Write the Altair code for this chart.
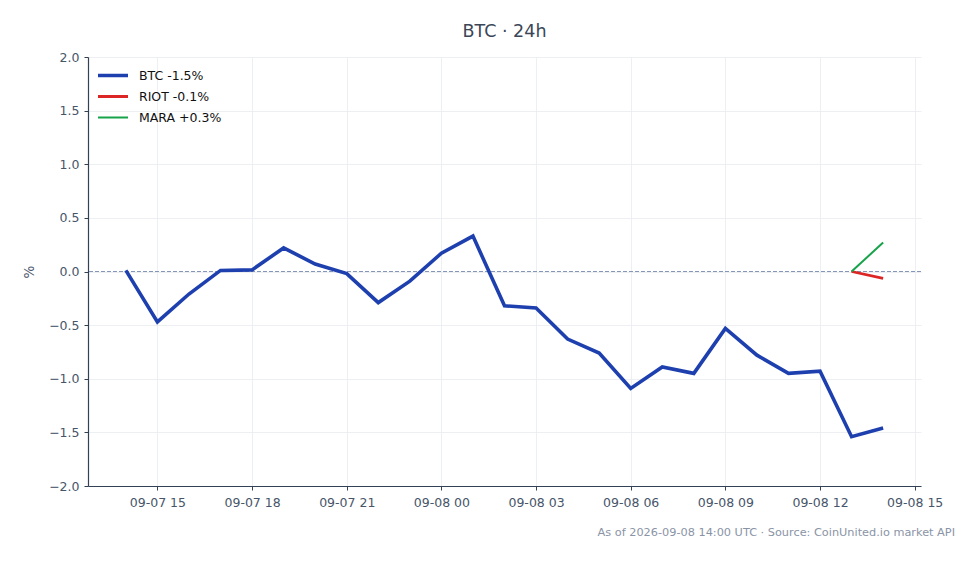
import altair as alt
import pandas as pd

# ---- data ----
btc_hours = [
    "2026-09-07T14:00:00Z", "2026-09-07T15:00:00Z", "2026-09-07T16:00:00Z", "2026-09-07T17:00:00Z",
    "2026-09-07T18:00:00Z", "2026-09-07T19:00:00Z", "2026-09-07T20:00:00Z", "2026-09-07T21:00:00Z",
    "2026-09-07T22:00:00Z", "2026-09-07T23:00:00Z", "2026-09-08T00:00:00Z", "2026-09-08T01:00:00Z",
    "2026-09-08T02:00:00Z", "2026-09-08T03:00:00Z", "2026-09-08T04:00:00Z", "2026-09-08T05:00:00Z",
    "2026-09-08T06:00:00Z", "2026-09-08T07:00:00Z", "2026-09-08T08:00:00Z", "2026-09-08T09:00:00Z",
    "2026-09-08T10:00:00Z", "2026-09-08T11:00:00Z", "2026-09-08T12:00:00Z", "2026-09-08T13:00:00Z",
    "2026-09-08T14:00:00Z",
]
btc_values = [0.01, -0.47, -0.21, 0.01, 0.015, 0.22, 0.07, -0.02, -0.29, -0.09, 0.17, 0.33,
              -0.32, -0.34, -0.63, -0.76, -1.09, -0.89, -0.95, -0.53, -0.78, -0.95, -0.93,
              -1.54, -1.46]
riot_hours = ["2026-09-08T13:00:00Z", "2026-09-08T14:00:00Z"]
riot_values = [0.0, -0.065]
mara_hours = ["2026-09-08T13:00:00Z", "2026-09-08T14:00:00Z"]
mara_values = [0.0, 0.27]

title_text = "BTC · 24h"
footer_text = "As of 2026-09-08 14:00 UTC · Source: CoinUnited.io market API"
y_ticks = [-2.0, -1.5, -1.0, -0.5, 0.0, 0.5, 1.0, 1.5, 2.0]

def lab(name, vals):
    return f"{name} {vals[-1]:+.1f}%"

btc_label = lab("BTC", btc_values)
riot_label = lab("RIOT", riot_values)
mara_label = lab("MARA", mara_values)
labels = [btc_label, riot_label, mara_label]
colors = ["#1e40af", "#dc2626", "#16a34a"]
widths = [3.6, 2.0, 2.0]

rows = []
for name, hrs, vals, order in [(btc_label, btc_hours, btc_values, 0),
                               (riot_label, riot_hours, riot_values, 1),
                               (mara_label, mara_hours, mara_values, 2)]:
    for h, v in zip(hrs, vals):
        rows.append({"t": h, "v": v, "series": name, "o": order})
df = pd.DataFrame(rows)

zero_df = pd.DataFrame({"y": [0.0]})
footer_df = pd.DataFrame({"text": [footer_text]})

W, H = 833, 429
FONT = "DejaVu Sans"

x_dom = [alt.DateTime(year=2026, month=9, date=7, hours=12, minutes=48, utc=True),
         alt.DateTime(year=2026, month=9, date=8, hours=15, minutes=12, utc=True)]
x_ticks = [alt.DateTime(year=2026, month=9, date=d, hours=h, utc=True)
           for d, h in [(7, 15), (7, 18), (7, 21), (8, 0), (8, 3), (8, 6), (8, 9), (8, 12), (8, 15)]]

x_enc = alt.X("t:T",
              scale=alt.Scale(type="utc", domain=x_dom),
              axis=alt.Axis(values=x_ticks, labelExpr="utcFormat(datum.value, '%m-%d %H')",
                            title=None, grid=True))
y_scale = alt.Scale(domain=[-2, 2], nice=False)

def make_legend():
    return alt.Legend(title=None, orient="none", legendX=8, legendY=9,
                      symbolType="stroke", symbolSize=900, clipHeight=19,
                      labelFontSize=12.5, labelColor="#111111", labelFont=FONT,
                      labelOffset=9, rowPadding=2)

lines = alt.Chart(df).mark_line(strokeCap="butt", strokeJoin="miter").encode(
    x=x_enc,
    y=alt.Y("v:Q", scale=y_scale,
            axis=alt.Axis(values=y_ticks, format=".1f", title="%", grid=True,
                          titlePadding=12, titleFontSize=13.5)),
    color=alt.Color("series:N", scale=alt.Scale(domain=labels, range=colors),
                    legend=make_legend()),
    strokeWidth=alt.StrokeWidth("series:N", scale=alt.Scale(domain=labels, range=widths),
                                legend=make_legend()),
    detail="series:N",
    order="o:Q",
)

zero = alt.Chart(zero_df).mark_rule(color="#8596bb", strokeWidth=1, strokeDash=[4, 2]).encode(
    y=alt.Y("y:Q", scale=y_scale),
)

footer = alt.Chart(footer_df).mark_text(align="right", baseline="middle", fontSize=11.3,
                                        color="#8a94a6", font=FONT).encode(
    x=alt.value(W + 34), y=alt.value(H + 47), text="text:N")

chart = alt.layer(zero, lines, footer).properties(
    width=W, height=H,
    title=alt.TitleParams(title_text, fontSize=17.5, font=FONT, color="#3b4657",
                          fontWeight="normal", anchor="middle", offset=11),
    autosize=alt.AutoSizeParams(type="none"),
    padding={"left": 80, "top": 49, "right": 40, "bottom": 60},
).configure_view(stroke=None).configure_axis(
    domainColor="#334155", domainWidth=1.2, tickColor="#334155", tickSize=4, tickWidth=1,
    labelColor="#475569", labelFontSize=12.5, labelFont=FONT, labelPadding=5,
    titleColor="#475569", titleFont=FONT, titleFontSize=12.5, titleFontWeight="normal",
    gridColor="#e8ebf0", gridWidth=0.8,
).configure_axisX(labelPadding=6)

chart.save("out.html", embed_options={"renderer": "svg", "actions": False})
